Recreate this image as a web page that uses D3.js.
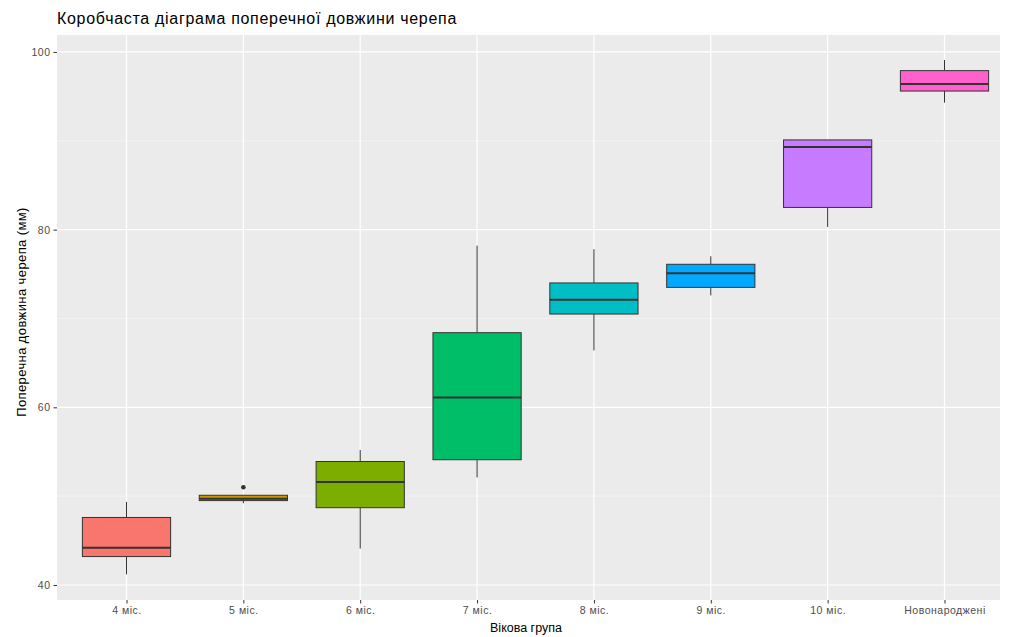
<!DOCTYPE html>
<html>
<head>
<meta charset="utf-8">
<script src="https://cdn.jsdelivr.net/npm/d3@7"></script>
<style>
  html, body { margin: 0; padding: 0; background: #ffffff; }
  svg { display: block; font-family: "Liberation Sans", "DejaVu Sans", sans-serif; }
</style>
</head>
<body>
<svg id="chart" width="1010" height="637"></svg>
<script>
// ---- data ----
const categories = ["4 міс.", "5 міс.", "6 міс.", "7 міс.", "8 міс.", "9 міс.", "10 міс.", "Новонароджені"];
const whiskerLow  = [41.2, 49.2, 44.1, 52.1, 66.4, 72.6, 80.3, 94.3];
const q1          = [43.2, 49.5, 48.7, 54.1, 70.5, 73.5, 82.5, 95.6];
const medians     = [44.2, 49.7, 51.6, 61.1, 72.1, 75.1, 89.3, 96.4];
const q3          = [47.6, 50.1, 53.9, 68.4, 74.0, 76.1, 90.1, 97.9];
const whiskerHigh = [49.35, 50.1, 55.2, 78.2, 77.8, 77.0, 90.1, 99.1];
const outlierCats   = ["5 міс."];
const outlierValues = [51.0];
const fillColors = ["#F8766D", "#CD9600", "#7CAE00", "#00BE67", "#00BFC4", "#00A9FF", "#C77CFF", "#FF61CC"];
const yTicks = [40, 60, 80, 100];
const yMinorTicks = [50, 70, 90];
const titleText = "Коробчаста діаграма поперечної довжини черепа";
const xTitle = "Вікова група";
const yTitle = "Поперечна довжина черепа (мм)";

// ---- layout ----
const panel = { left: 57, right: 1000, top: 35, bottom: 600 };
const svg = d3.select("#chart");

const x = d3.scalePoint().domain(categories).range([126.5, 944.5]);
const boxW = x.step() * 0.755;
const y = d3.scaleLinear().domain([38.31, 101.91]).range([panel.bottom, panel.top]);

// panel background
svg.append("rect")
  .attr("x", panel.left).attr("y", panel.top)
  .attr("width", panel.right - panel.left).attr("height", panel.bottom - panel.top)
  .attr("fill", "#EBEBEB");

// grid
const grid = svg.append("g");
grid.selectAll("line.minor").data(yMinorTicks).join("line")
  .attr("x1", panel.left).attr("x2", panel.right)
  .attr("y1", d => y(d)).attr("y2", d => y(d))
  .attr("stroke", "#F5F5F5").attr("stroke-width", 0.7);
grid.selectAll("line.major").data(yTicks).join("line")
  .attr("x1", panel.left).attr("x2", panel.right)
  .attr("y1", d => y(d)).attr("y2", d => y(d))
  .attr("stroke", "#FFFFFF").attr("stroke-width", 1.2);
grid.selectAll("line.vx").data(categories).join("line")
  .attr("x1", d => x(d)).attr("x2", d => x(d))
  .attr("y1", panel.top).attr("y2", panel.bottom)
  .attr("stroke", "#FFFFFF").attr("stroke-width", 1.2);

// boxes
const rows = categories.map((c, i) => ({
  c, lo: whiskerLow[i], q1: q1[i], med: medians[i], q3: q3[i], hi: whiskerHigh[i], fill: fillColors[i]
}));
const g = svg.append("g").selectAll("g").data(rows).join("g");
const stroke = "#333333";
g.append("line")
  .attr("x1", d => x(d.c)).attr("x2", d => x(d.c))
  .attr("y1", d => y(d.hi)).attr("y2", d => y(d.q3))
  .attr("stroke", stroke).attr("stroke-width", 1);
g.append("line")
  .attr("x1", d => x(d.c)).attr("x2", d => x(d.c))
  .attr("y1", d => y(d.q1)).attr("y2", d => y(d.lo))
  .attr("stroke", stroke).attr("stroke-width", 1);
g.append("rect")
  .attr("x", d => x(d.c) - boxW / 2).attr("width", boxW)
  .attr("y", d => y(d.q3)).attr("height", d => Math.max(1, y(d.q1) - y(d.q3)))
  .attr("fill", d => d.fill).attr("stroke", stroke).attr("stroke-width", 1);
g.append("line")
  .attr("x1", d => x(d.c) - boxW / 2).attr("x2", d => x(d.c) + boxW / 2)
  .attr("y1", d => y(d.med)).attr("y2", d => y(d.med))
  .attr("stroke", stroke).attr("stroke-width", 2);

// outliers
svg.append("g").selectAll("circle").data(outlierValues).join("circle")
  .attr("cx", (d, i) => x(outlierCats[i])).attr("cy", d => y(d))
  .attr("r", 2.3).attr("fill", stroke);

// axes
const yAxis = svg.append("g").attr("transform", `translate(${panel.left},0)`)
  .call(d3.axisLeft(y).tickValues(yTicks).tickSize(3.5).tickPadding(3));
const xAxis = svg.append("g").attr("transform", `translate(0,${panel.bottom})`)
  .call(d3.axisBottom(x).tickSize(3.5).tickPadding(3));
[yAxis, xAxis].forEach(a => {
  a.select(".domain").remove();
  a.selectAll(".tick line").attr("stroke", "#333333");
  a.selectAll(".tick text").attr("fill", "#4D4D4D").style("font-size", "10.5px")
    .style("letter-spacing", "0.5px");
});

// titles
svg.append("text").attr("x", panel.left).attr("y", 24)
  .attr("fill", "#000").style("font-size", "16px").style("letter-spacing", "0.7px").text(titleText);
svg.append("text").attr("x", 526).attr("y", 632)
  .attr("text-anchor", "middle").attr("fill", "#000").style("font-size", "12.5px").text(xTitle);
svg.append("text")
  .attr("transform", `translate(26,312) rotate(-90)`)
  .attr("text-anchor", "middle").attr("fill", "#000").style("font-size", "13px")
  .style("letter-spacing", "0.4px").text(yTitle);
</script>
</body>
</html>
